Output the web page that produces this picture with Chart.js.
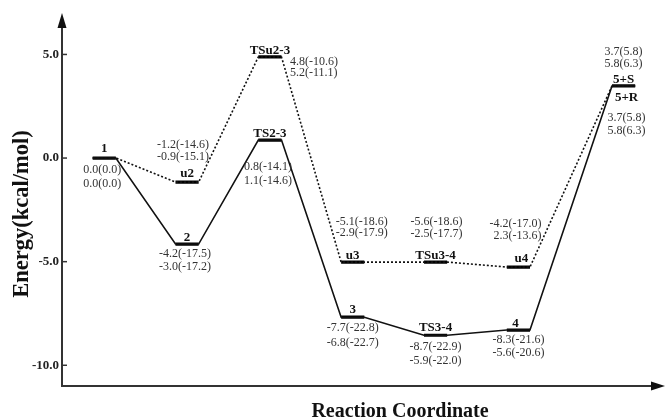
<!DOCTYPE html>
<html>
<head>
<meta charset="utf-8">
<title>Energy profile</title>
<script src="https://cdn.jsdelivr.net/npm/chart.js@4.4.1/dist/chart.umd.min.js"></script>
<style>
  html, body { margin: 0; padding: 0; background: #fff; }
  #wrap { width: 665px; height: 419px; position: relative; }
</style>
</head>
<body>
<div id="wrap"><canvas id="energyChart"></canvas></div>
<script>
// Reaction coordinate of each stationary point (shared by both pathways)
const reactionCoord = [1, 2, 3, 4, 5, 6, 7.27];

// Solid pathway
const solidNames = ['1', '2', 'TS2-3', '3', 'TS3-4', '4', '5+R'];
const solidEnergy = [0.0, -4.15, 0.87, -7.68, -8.55, -8.3, 3.48];
const solidValues = [
    ['0.0(0.0)', '0.0(0.0)'],
    ['-4.2(-17.5)', '-3.0(-17.2)'],
    ['0.8(-14.1)', '1.1(-14.6)'],
    ['-7.7(-22.8)', '-6.8(-22.7)'],
    ['-8.7(-22.9)', '-5.9(-22.0)'],
    ['-8.3(-21.6)', '-5.6(-20.6)'],
    ['3.7(5.8)', '5.8(6.3)']
];

// Dotted pathway
const dottedNames = ['1', 'u2', 'TSu2-3', 'u3', 'TSu3-4', 'u4', '5+S'];
const dottedEnergy = [0.0, -1.16, 4.88, -5.02, -5.02, -5.26, 3.48];
const dottedValues = [
    null,
    ['-1.2(-14.6)', '-0.9(-15.1)'],
    ['4.8(-10.6)', '5.2(-11.1)'],
    ['-5.1(-18.6)', '-2.9(-17.9)'],
    ['-5.6(-18.6)', '-2.5(-17.7)'],
    ['-4.2(-17.0)', '2.3(-13.6)'],
    ['3.7(5.8)', '5.8(6.3)']
];

const yTicks = [5, 0, -5, -10];

// Half width of a level bar, in reaction-coordinate units
const HALF_W = 0.14;
const SERIF = '"Liberation Serif", "Times New Roman", serif';

// Label offsets in px from the bar centre: name [dx, dy], vals [dx, dy1, dy2]
const LABEL_LAYOUT = {
    '1':      { name: [0, -6],  vals: [-2, 15, 29],   align: 'center' },
    '2':      { name: [0, -3],  vals: [-2, 13, 26],   align: 'center' },
    'TS2-3':  { name: [0, -3],  vals: [-2, 30, 44],   align: 'center' },
    '3':      { name: [0, -4],  vals: [0, 14, 29],    align: 'center' },
    'TS3-4':  { name: [0, -4],  vals: [0, 15, 29],    align: 'center' },
    '4':      { name: [-3, -3], vals: [0, 13, 26],    align: 'center' },
    '5+R':    { name: [3, 15],  vals: [3, 35, 48],    align: 'center' },
    'u2':     { name: [0, -5],  vals: [-4, -34, -22], align: 'center' },
    'TSu2-3': { name: [0, -3],  vals: [20, 8, 19],    align: 'left' },
    'u3':     { name: [0, -3],  vals: [-17, -37, -26], align: 'left' },
    'TSu3-4': { name: [0, -3],  vals: [1, -37, -25],  align: 'center' },
    'u4':     { name: [3, -5],  vals: [23, -40, -28], align: 'right' },
    '5+S':    { name: [0, -3],  vals: [0, -31, -19],  align: 'center' }
};

document.addEventListener('DOMContentLoaded', () => {
    initEnergyChart();
});

// Path through both ends of every level
function buildPath(energy) {
    const pts = [];
    energy.forEach((e, i) => {
        pts.push({ x: reactionCoord[i] - HALF_W, y: e });
        pts.push({ x: reactionCoord[i] + HALF_W, y: e });
    });
    return pts;
}

// Short thick segments, separated by gaps
function buildLevels() {
    const pts = [];
    [solidEnergy, dottedEnergy].forEach(energy => {
        energy.forEach((e, i) => {
            pts.push({ x: reactionCoord[i] - HALF_W, y: e });
            pts.push({ x: reactionCoord[i] + HALF_W, y: e });
            pts.push({ x: reactionCoord[i] + HALF_W + 0.01, y: null });
        });
    });
    return pts;
}

// Axes with arrows, inward ticks, titles and level labels
const decorPlugin = {
    id: 'decor',
    afterDraw(chart) {
        const { ctx, chartArea: a, scales } = chart;
        const xs = scales.x, ys = scales.y;
        ctx.save();

        // axis lines
        ctx.strokeStyle = '#333';
        ctx.fillStyle = '#111';
        ctx.lineWidth = 2;
        ctx.beginPath();
        ctx.moveTo(a.left, a.top + 10);
        ctx.lineTo(a.left, a.bottom);
        ctx.lineTo(a.right - 10, a.bottom);
        ctx.stroke();

        // arrow heads
        ctx.beginPath();
        ctx.moveTo(a.left, a.top);
        ctx.lineTo(a.left - 4.5, a.top + 15);
        ctx.lineTo(a.left + 4.5, a.top + 15);
        ctx.closePath();
        ctx.fill();
        ctx.beginPath();
        ctx.moveTo(a.right, a.bottom);
        ctx.lineTo(a.right - 14, a.bottom - 4.5);
        ctx.lineTo(a.right - 14, a.bottom + 4.5);
        ctx.closePath();
        ctx.fill();

        // inward tick marks
        ctx.lineWidth = 1.5;
        yTicks.forEach(v => {
            const py = ys.getPixelForValue(v);
            ctx.beginPath();
            ctx.moveTo(a.left, py);
            ctx.lineTo(a.left + 5, py);
            ctx.stroke();
        });

        // axis titles
        ctx.fillStyle = '#111';
        ctx.textAlign = 'center';
        ctx.textBaseline = 'alphabetic';
        ctx.font = 'bold 20px ' + SERIF;
        ctx.fillText('Reaction Coordinate', 400, 417);
        ctx.save();
        ctx.translate(28, 214);
        ctx.rotate(-Math.PI / 2);
        ctx.font = 'bold 22.5px ' + SERIF;
        ctx.fillText('Energy(kcal/mol)', 0, 0);
        ctx.restore();

        // level labels
        const drawLevel = (name, energy, vals, i) => {
            const lay = LABEL_LAYOUT[name];
            const cx = xs.getPixelForValue(reactionCoord[i]);
            const cy = ys.getPixelForValue(energy);
            ctx.font = 'bold 13px ' + SERIF;
            ctx.fillStyle = '#111';
            ctx.textAlign = 'center';
            ctx.fillText(name, cx + lay.name[0], cy + lay.name[1]);
            if (!vals) return;
            ctx.font = '12px ' + SERIF;
            ctx.fillStyle = '#333';
            ctx.textAlign = lay.align;
            ctx.fillText(vals[0], cx + lay.vals[0], cy + lay.vals[1]);
            ctx.fillText(vals[1], cx + lay.vals[0], cy + lay.vals[2]);
        };
        solidNames.forEach((n, i) => drawLevel(n, solidEnergy[i], solidValues[i], i));
        dottedNames.forEach((n, i) => {
            if (i === 0) return;
            drawLevel(n, dottedEnergy[i], dottedValues[i], i);
        });

        ctx.restore();
    }
};

function initEnergyChart() {
    const ctx = document.getElementById('energyChart');
    if (!ctx) return;

    new Chart(ctx.getContext('2d'), {
        type: 'line',
        data: {
            datasets: [
                {
                    label: 'solid',
                    data: buildPath(solidEnergy),
                    borderColor: '#111',
                    borderWidth: 1.6,
                    pointRadius: 0,
                    tension: 0
                },
                {
                    label: 'dotted',
                    data: buildPath(dottedEnergy),
                    borderColor: '#111',
                    borderWidth: 1.6,
                    borderDash: [2, 2],
                    pointRadius: 0,
                    tension: 0
                },
                {
                    label: 'levels',
                    data: buildLevels(),
                    borderColor: '#000',
                    borderWidth: 3.2,
                    borderCapStyle: 'butt',
                    pointRadius: 0,
                    spanGaps: false
                }
            ]
        },
        options: {
            responsive: true,
            maintainAspectRatio: false,
            animation: false,
            layout: { padding: { top: 13, right: 0, left: 0, bottom: 0 } },
            plugins: {
                legend: { display: false },
                tooltip: { enabled: false }
            },
            scales: {
                x: {
                    type: 'linear',
                    min: 0.49,
                    max: 7.77,
                    grid: { display: false },
                    border: { display: false },
                    ticks: { display: false },
                    afterFit: scale => { scale.height = 33; }
                },
                y: {
                    min: -11,
                    max: 7,
                    grid: { display: false, drawTicks: false },
                    border: { display: false },
                    afterBuildTicks: scale => {
                        scale.ticks = yTicks.map(v => ({ value: v }));
                    },
                    ticks: {
                        padding: 3,
                        color: '#222',
                        font: { family: SERIF, size: 13, weight: 'bold' },
                        callback: v => v.toFixed(1)
                    },
                    afterFit: scale => { scale.width = 62; }
                }
            }
        },
        plugins: [decorPlugin]
    });
}
</script>
</body>
</html>
